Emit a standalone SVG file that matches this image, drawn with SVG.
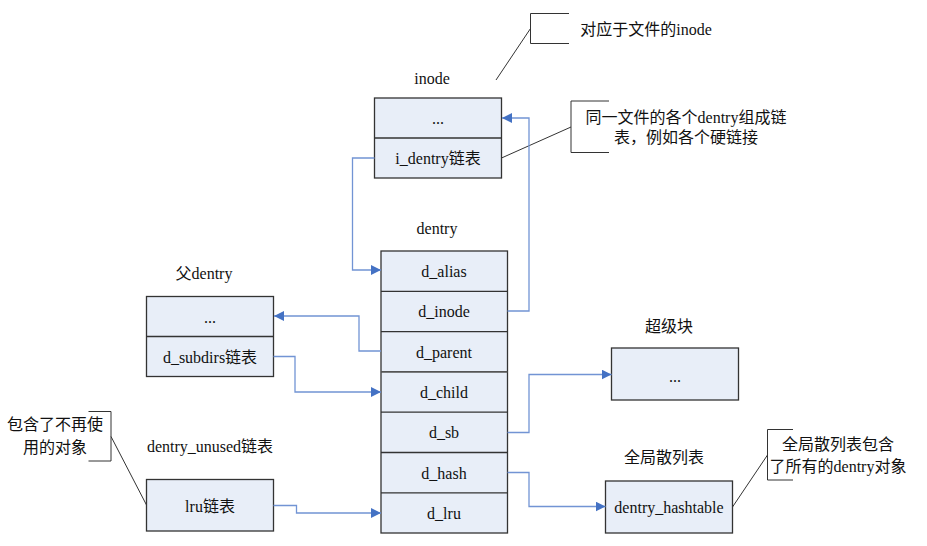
<svg xmlns="http://www.w3.org/2000/svg" width="927" height="546" viewBox="0 0 927 546">
<style>
text{font-family:'Liberation Serif','Times New Roman','DejaVu Serif','Noto Sans CJK SC',serif;font-size:16px;fill:#111;text-anchor:middle;dominant-baseline:central}
.box{fill:#e8eef8;stroke:#333;stroke-width:1.3}
.sep{stroke:#333;stroke-width:1.3}
.conn{fill:none;stroke:#7294d4;stroke-width:1.3}
.call{fill:none;stroke:#333;stroke-width:1}
</style>
<defs>
<marker id="arr" markerWidth="10" markerHeight="10" refX="10" refY="5" orient="auto" markerUnits="userSpaceOnUse">
<path d="M0,0 L10,5 L0,10 Z" fill="#4472c4"/>
</marker>
</defs>
<g id="inode">
<text x="432" y="78">inode</text>
<rect class="box" x="374.5" y="98" width="127" height="80"/>
<line class="sep" x1="374.5" y1="138" x2="501.5" y2="138"/>
<text x="438" y="118">...</text>
<text x="438" y="158">i_dentry链表</text>
</g>
<g id="dentry">
<text x="437" y="228">dentry</text>
<rect class="box" x="381" y="251" width="126.5" height="282"/>
<line class="sep" x1="381" y1="291.3" x2="507.5" y2="291.3"/>
<line class="sep" x1="381" y1="331.6" x2="507.5" y2="331.6"/>
<line class="sep" x1="381" y1="371.9" x2="507.5" y2="371.9" style="stroke:#555;stroke-width:1.8"/>
<line class="sep" x1="381" y1="412.2" x2="507.5" y2="412.2"/>
<line class="sep" x1="381" y1="452.5" x2="507.5" y2="452.5"/>
<line class="sep" x1="381" y1="492.8" x2="507.5" y2="492.8"/>
<text x="444" y="271">d_alias</text>
<text x="444" y="311">d_inode</text>
<text x="444" y="352">d_parent</text>
<text x="444" y="392">d_child</text>
<text x="444" y="432">d_sb</text>
<text x="444" y="473">d_hash</text>
<text x="444" y="513">d_lru</text>
</g>
<g id="parent">
<text x="204" y="273">父dentry</text>
<rect class="box" x="146.5" y="296.5" width="127" height="80"/>
<line class="sep" x1="146.5" y1="336.5" x2="273.5" y2="336.5"/>
<text x="210" y="317">...</text>
<text x="210" y="357">d_subdirs链表</text>
</g>
<g id="superblock">
<text x="669" y="326">超级块</text>
<rect class="box" x="611.5" y="348" width="127" height="52"/>
<text x="675" y="376">...</text>
</g>
<g id="hashtable">
<text x="664" y="457">全局散列表</text>
<rect class="box" x="605.5" y="481" width="127" height="52"/>
<text x="669" y="507">dentry_hashtable</text>
</g>
<g id="unused">
<text x="210" y="446">dentry_unused链表</text>
<rect class="box" x="146.5" y="479.5" width="127" height="51.5"/>
<text x="210" y="506">lru链表</text>
</g>
<g id="note-inode">
<path class="call" d="M569,13.5 H530.5 V43.5 H569"/>
<line class="call" x1="496" y1="80" x2="530.5" y2="28.5"/>
<text x="646" y="29">对应于文件的inode</text>
</g>
<g id="note-dentry">
<path class="call" d="M609,101 H571 V152.5 H609"/>
<line class="call" x1="501.5" y1="158" x2="571" y2="127"/>
<text x="686" y="117">同一文件的各个dentry组成链</text>
<text x="686" y="137">表，例如各个硬链接</text>
</g>
<g id="note-hash">
<path class="call" d="M793,429.5 H767.5 V480 H793"/>
<line class="call" x1="732.5" y1="507" x2="767.5" y2="455"/>
<text x="838" y="444">全局散列表包含</text>
<text x="838" y="466">了所有的dentry对象</text>
</g>
<g id="note-unused">
<path class="call" d="M88.5,411.5 H111 V461 H88.5"/>
<line class="call" x1="111" y1="436.5" x2="146.5" y2="505"/>
<text x="55" y="424">包含了不再使</text>
<text x="55" y="447">用的对象</text>
</g>
<g id="connectors">
<path class="conn" d="M507.5,311 H529 V118 H502" marker-end="url(#arr)"/>
<path class="conn" d="M374.5,158 H352.5 V270 H381" marker-end="url(#arr)"/>
<path class="conn" d="M381,351 H359 V316 H274" marker-end="url(#arr)"/>
<path class="conn" d="M273.5,356.5 H295 V392 H381" marker-end="url(#arr)"/>
<path class="conn" d="M507.5,432.5 H529 V374.5 H611.5" marker-end="url(#arr)"/>
<path class="conn" d="M507.5,472.5 H529 V506.5 H605.5" marker-end="url(#arr)"/>
<path class="conn" d="M273.5,505.5 H296.5 V513 H381" marker-end="url(#arr)"/>
</g>
</svg>
